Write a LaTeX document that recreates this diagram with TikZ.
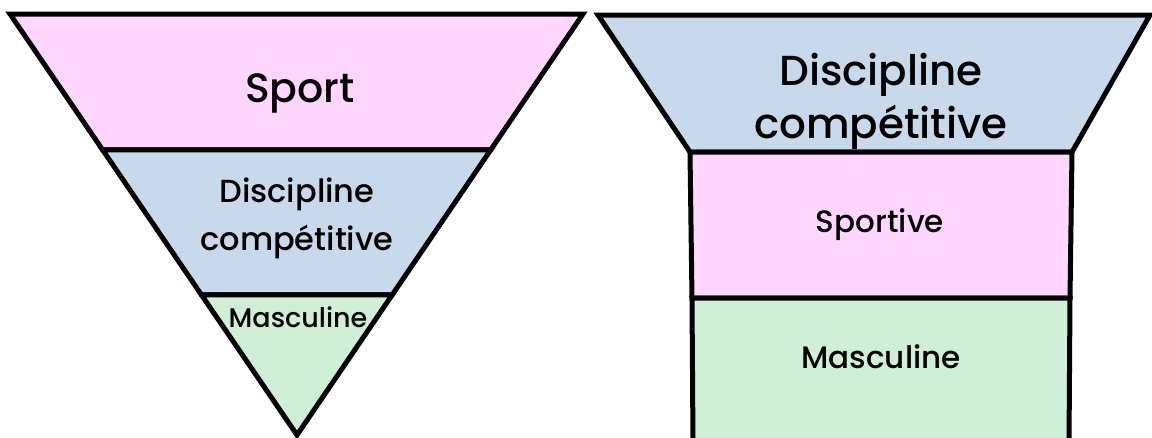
\documentclass[tikz,border=0pt]{standalone}
\usepackage{fontspec}
\setmainfont{Poppins}[UprightFont=* Medium]
\usetikzlibrary{calc}
\definecolor{sportpink}{HTML}{FFD6FE}
\definecolor{discblue}{HTML}{C9D9EC}
\definecolor{mascgreen}{HTML}{D0EFD7}
\tikzset{
    band/.style={
        draw=black,
        line width=5pt,
        line join=miter,
    },
    tier/.style={
        inner sep=0pt,
        anchor=base,
        align=center,
    }
}

\begin{document}
\begin{tikzpicture}[x=1pt, y=-1pt]
        \useasboundingbox (0,0) rectangle (1152,437);
        % left funnel
        \coordinate (tl) at (10,14);
        \coordinate (tr) at (583,14);
        \coordinate (apex) at (297,435);
        \coordinate (a1) at ($(tl)!0.323!(apex)$);
        \coordinate (b1) at ($(tr)!0.323!(apex)$);
        \coordinate (a2) at ($(tl)!0.667!(apex)$);
        \coordinate (b2) at ($(tr)!0.667!(apex)$);
        \filldraw[band, fill=sportpink] (tl) -- (tr) -- (b1) -- (a1) -- cycle;
        \filldraw[band, fill=discblue] (a1) -- (b1) -- (b2) -- (a2) -- cycle;
        \filldraw[band, fill=mascgreen] (a2) -- (b2) -- (apex) -- cycle;
        \node[tier, font=\fontsize{41}{48}\selectfont] (sport) at (300,102) {Sport};
        \node[tier, font=\fontsize{32}{48}\selectfont] (disc) at (297,250) {Discipline\\compétitive};
        \node[tier, font=\fontsize{27}{34}\selectfont] (masc) at (298,327) {Masculine};
        % right funnel
        \coordinate (rtl) at (598,15);
        \coordinate (rtr) at (1150,15);
        \coordinate (c1) at (690,152);
        \coordinate (d1) at (1072,152);
        \coordinate (c2) at (692,298);
        \coordinate (d2) at (1070,298);
        \coordinate (c3) at (693,445);
        \coordinate (d3) at (1069,445);
        \filldraw[band, fill=discblue] (rtl) -- (rtr) -- (d1) -- (c1) -- cycle;
        \filldraw[band, fill=sportpink] (c1) -- (d1) -- (d2) -- (c2) -- cycle;
        \filldraw[band, fill=mascgreen] (c2) -- (d2) -- (d3) -- (c3) -- cycle;
        \node[tier, font=\fontsize{42}{53}\selectfont] (rdisc) at (881,138) {Discipline\\compétitive};
        \node[tier, font=\fontsize{31}{38}\selectfont] (rsport) at (880,232) {Sportive};
        \node[tier, font=\fontsize{31}{38}\selectfont] (rmasc) at (881,368) {Masculine};
\end{tikzpicture}
\end{document}
